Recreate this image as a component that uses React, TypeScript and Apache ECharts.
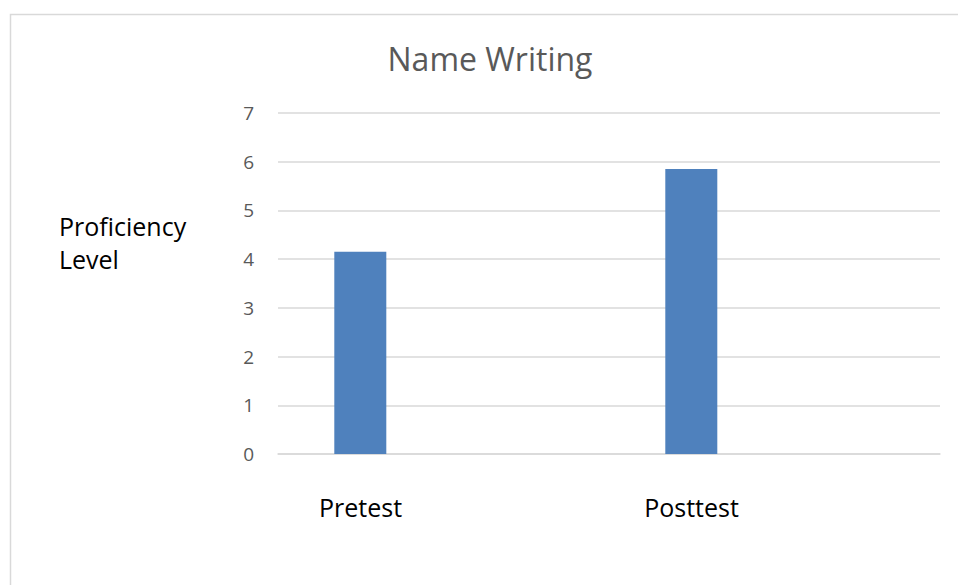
import React, { useEffect, useRef } from "react";
import * as echarts from "echarts";

const titleText = "Name Writing";
const yAxisTitle = "Proficiency\nLevel";
const categories = ["Pretest", "Posttest"];
const proficiencyValues = [4.15, 5.85];
const spacerValues: (number | null)[] = [null, null];
const yTicks = { min: 0, max: 7, interval: 1 };

export default function App() {
  const ref = useRef<HTMLDivElement>(null);
  useEffect(() => {
    if (!ref.current) return;
    const chart = echarts.init(ref.current, null, { renderer: "svg" });
    chart.setOption({
      animation: false,
      backgroundColor: "#ffffff",
      title: {
        text: titleText,
        left: 485,
        textAlign: "center",
        top: 37,
        textStyle: {
          fontFamily: "Open Sans",
          fontSize: 32,
          fontWeight: "normal",
          color: "#595959",
        },
      },
      graphic: [
        {
          type: "rect",
          shape: { x: 10.5, y: 14.5, width: 1000, height: 1000 },
          style: { fill: "none", stroke: "#d9d9d9", lineWidth: 1.5 },
          silent: true,
        },
        {
          type: "text",
          left: 59,
          top: 209,
          style: {
            text: yAxisTitle,
            font: "25px 'Open Sans'",
            fill: "#000000",
            lineHeight: 33,
          },
        },
      ],
      grid: { left: 278, right: 18, top: 113, bottom: 131, containLabel: false },
      xAxis: {
        type: "category",
        data: categories,
        axisLine: { show: true, lineStyle: { color: "#d9d9d9", width: 1.5 } },
        axisTick: { show: false },
        axisLabel: {
          margin: 40,
          padding: [0, 166, 0, 0],
          fontFamily: "Open Sans",
          fontSize: 25,
          color: "#000000",
        },
      },
      yAxis: {
        type: "value",
        min: yTicks.min,
        max: yTicks.max,
        interval: yTicks.interval,
        axisLine: { show: false },
        axisTick: { show: false },
        splitLine: { lineStyle: { color: "#d9d9d9", width: 1.5 } },
        axisLabel: {
          margin: 24,
          fontFamily: "Open Sans",
          fontSize: 19,
          color: "#595959",
        },
      },
      series: [
        {
          name: "Proficiency Level",
          type: "bar",
          data: proficiencyValues,
          barWidth: 52,
          barGap: "220%",
          itemStyle: { color: "#4f81bd" },
        },
        {
          name: "spacer",
          type: "bar",
          data: spacerValues,
          barWidth: 52,
          itemStyle: { color: "transparent" },
        },
      ],
    });
    return () => chart.dispose();
  }, []);
  return (
    <div
      ref={ref}
      style={{ position: "fixed", left: 0, top: 0, width: 958, height: 585 }}
    />
  );
}
